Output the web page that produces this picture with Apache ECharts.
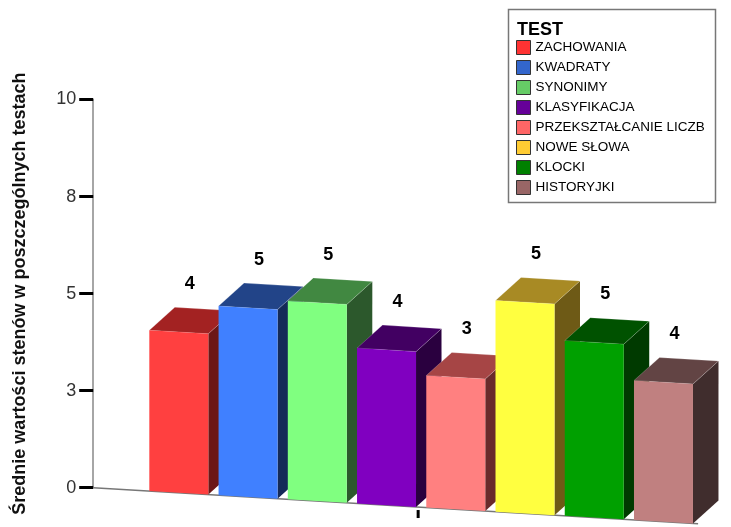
<!DOCTYPE html>
<html>
<head>
<meta charset="utf-8">
<script src="https://cdn.jsdelivr.net/npm/echarts@6/dist/echarts.min.js"></script>
<style>
  html, body { margin: 0; padding: 0; background: #fff; }
  #chart { width: 731px; height: 527px; }
</style>
</head>
<body>
<div id="chart"></div>
<script>
// Mean sten scores per test
const tests = ['ZACHOWANIA', 'KWADRATY', 'SYNONIMY', 'KLASYFIKACJA',
               'PRZEKSZTAŁCANIE LICZB', 'NOWE SŁOWA', 'KLOCKI', 'HISTORYJKI'];
const scores = [4.14, 4.87, 5.11, 4.00, 3.40, 5.44, 4.51, 3.59];
const yTickValues = [0, 2.5, 5, 7.5, 10];
const yTickLabels = ['0', '3', '5', '8', '10'];

// Face colours for the pseudo-3D blocks
const frontColors  = ['#FF4040', '#4080FF', '#80FF80', '#8000C0', '#FF8080', '#FFFF40', '#00A000', '#C08080'];
const topColors    = ['#A32222', '#224488', '#418841', '#420062', '#A64545', '#A88A24', '#005200', '#624444'];
const sideColors   = ['#6C1717', '#142A58', '#2C582C', '#2A003F', '#6A2B2B', '#6E5A16', '#003A00', '#402D2D'];
const legendColors = ['#FF3333', '#3366CC', '#66CC66', '#660099', '#FF6666', '#FFCC33', '#008000', '#996666'];

const FONT = '"Liberation Sans", Arial, sans-serif';
const Y_AXIS_OFFSET = 51;
const FLOOR_SLOPE = 0.0595;
const DEPTH_X = 25.5;
const DEPTH_Y = -23;
const BAR_RATIO = 0.852;

function floorY(cs, zeroY, x) {
  return zeroY + FLOOR_SLOPE * (x - (cs.x - Y_AXIS_OFFSET));
}

function makeBarRenderer(k) {
  return function (params, api) {
    const cs = params.coordSys;
    const idx = api.value(0);
    const val = api.value(1);
    const zero = api.coord([idx, 0]);
    const top = api.coord([idx, val]);
    const h = zero[1] - top[1];
    const w = api.size([1, 0])[0] * BAR_RATIO;
    const xl = zero[0] - w / 2;
    const xr = zero[0] + w / 2;
    const bl = [xl, floorY(cs, zero[1], xl)];
    const br = [xr, floorY(cs, zero[1], xr)];
    const tl = [xl, bl[1] - h];
    const tr = [xr, br[1] - h];
    const back = p => [p[0] + DEPTH_X, p[1] + DEPTH_Y];
    const topMidY = (tl[1] + tr[1]) / 2;
    return {
      type: 'group',
      children: [
        { type: 'polygon', shape: { points: [tr, back(tr), back(br), br] },
          style: { fill: sideColors[k] } },
        { type: 'polygon', shape: { points: [tl, tr, back(tr), back(tl)] },
          style: { fill: topColors[k], stroke: 'rgba(255,255,255,0.35)', lineWidth: 0.6 } },
        { type: 'polygon', shape: { points: [bl, br, tr, tl] },
          style: { fill: frontColors[k] } },
        { type: 'text', x: zero[0] + 11, y: topMidY - 48,
          style: { text: String(Math.round(val)), fill: '#000', font: 'bold 18px ' + FONT,
                   align: 'center', verticalAlign: 'middle' } }
      ]
    };
  };
}

function renderFloor(params, api) {
  const cs = params.coordSys;
  const zero = api.coord([0, 0]);
  const x0 = cs.x - Y_AXIS_OFFSET;
  const x1 = cs.x + cs.width;
  const xm = cs.x + cs.width / 2 - 3;
  const ym = floorY(cs, zero[1], xm);
  return {
    type: 'group',
    children: [
      { type: 'line', shape: { x1: x0, y1: zero[1], x2: x1, y2: floorY(cs, zero[1], x1) },
        style: { stroke: '#777', lineWidth: 1.5 } },
      { type: 'line', shape: { x1: xm, y1: ym + 3, x2: xm, y2: ym + 11 },
        style: { stroke: '#000', lineWidth: 3 } }
    ]
  };
}

const barSeries = tests.map((name, k) => ({
  type: 'custom',
  name: name,
  z: 3 + k,
  silent: true,
  itemStyle: { color: legendColors[k] },
  renderItem: makeBarRenderer(k),
  encode: { x: 0, y: 1 },
  data: [[k, scores[k]]]
}));

const chart = echarts.init(document.getElementById('chart'), null, { renderer: 'canvas' });
chart.setOption({
  animation: false,
  backgroundColor: '#fff',
  textStyle: { fontFamily: FONT },
  grid: { left: 144.2, right: 32.9, top: 99.5, bottom: 39.3, containLabel: false },
  xAxis: {
    type: 'category',
    data: tests,
    boundaryGap: true,
    axisLine: { show: false },
    axisTick: { show: false },
    axisLabel: { show: false },
    splitLine: { show: false }
  },
  yAxis: {
    type: 'value',
    min: 0,
    max: 10,
    interval: 2.5,
    offset: Y_AXIS_OFFSET,
    name: 'Średnie wartości stenów w poszczególnych testach',
    nameLocation: 'middle',
    nameGap: 64,
    nameTextStyle: { fontSize: 18, fontWeight: 'bold', color: '#111', fontFamily: FONT },
    axisLine: { show: true, lineStyle: { color: '#888', width: 1.5 } },
    axisTick: { show: true, length: 14, lineStyle: { color: '#000', width: 3 } },
    axisLabel: {
      fontSize: 18, color: '#333', margin: 17, fontFamily: FONT,
      formatter: (v) => {
        const i = yTickValues.indexOf(v);
        return i >= 0 ? yTickLabels[i] : '';
      }
    },
    splitLine: { show: false }
  },
  legend: {
    orient: 'vertical',
    left: 516,
    top: 40,
    padding: 0,
    itemWidth: 14,
    itemHeight: 14,
    itemGap: 5,
    icon: 'rect',
    selectedMode: false,
    textStyle: { fontSize: 13.5, color: '#000', fontFamily: FONT },
    data: tests.map((n, k) => ({
      name: n,
      itemStyle: { color: legendColors[k], borderColor: '#333', borderWidth: 1 }
    }))
  },
  graphic: [
    { type: 'rect', z: 0, shape: { x: 508.5, y: 9.5, width: 207, height: 193 },
      style: { fill: '#fff', stroke: '#777', lineWidth: 1.5 } },
    { type: 'text', z: 1, x: 517, y: 30.5,
      style: { text: 'TEST', fill: '#000', font: 'bold 18px ' + FONT, verticalAlign: 'middle' } }
  ],
  series: [
    { type: 'custom', name: 'floor', z: 1, silent: true, renderItem: renderFloor,
      encode: { x: 0, y: 1 }, data: [[0, 0]] }
  ].concat(barSeries)
});
</script>
</body>
</html>
